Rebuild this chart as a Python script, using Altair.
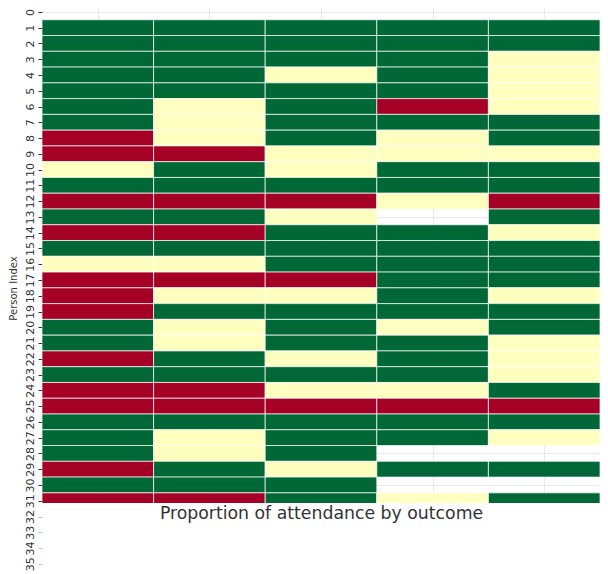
import altair as alt
import pandas as pd

# Person rows 1..31, five outcome columns (G = attended, Y = partial, R = absent, None = no data)
rows = list(range(1, 32))
col_a = ["G","G","G","G","G","G","G","R","R","Y","G","R","G","R","G","Y","R","R","R","G","G","R","G","R","R","G","G","G","R","G","R"]
col_b = ["G","G","G","G","G","Y","Y","Y","R","G","G","R","G","R","G","Y","R","Y","G","Y","Y","G","G","R","R","G","Y","Y","G","G","R"]
col_c = ["G","G","G","Y","G","G","G","G","Y","Y","G","R","Y","G","G","G","R","Y","G","G","G","Y","G","Y","R","G","G","G","Y","G","G"]
col_d = ["G","G","G","G","G","R","G","Y","Y","G","G","Y",None,"G","G","G","G","G","G","Y","G","G","G","Y","R","G","G",None,"G",None,"Y"]
col_e = ["G","G","Y","Y","Y","Y","G","G","Y","G","G","R","G","Y","G","G","G","Y","G","G","Y","Y","Y","G","R","G","Y",None,"G",None,"G"]
columns = [col_a, col_b, col_c, col_d, col_e]

outcome_domain = ["R", "Y", "G"]
outcome_colors = ["#a50026", "#ffffbf", "#006837"]
y_tick_values = list(range(36))
x_tick_values = [0, 1, 2, 3, 4]

records = []
for ci, col in enumerate(columns):
    for r, v in zip(rows, col):
        if v is None:
            continue
        records.append({"col": ci, "row": r, "x0": ci - 0.5, "x1": ci + 0.5,
                        "y0": r - 0.5, "y1": r + 0.5, "outcome": v})
df = pd.DataFrame(records)

x_scale = alt.Scale(domain=[-0.5, 4.5], nice=False, zero=False)
# index axis runs 0..35 at ~15.77 px per row; the plot area (499 px) shows rows up to ~31
y_scale = alt.Scale(domain=[-0.5, 35.5], range=[0, 567.7], nice=False, zero=False)

grid_cond = {"condition": {"test": "datum.value <= 31.2", "value": 1}, "value": 0}
tick_cond = {"condition": {"test": "datum.value <= 31.2", "value": 1}, "value": 0.3}

chart = alt.Chart(df).mark_rect(
    clip=True, stroke="white", strokeWidth=1, strokeOpacity=0.7
).encode(
    x=alt.X("x0:Q", scale=x_scale, axis=alt.Axis(
        values=x_tick_values, labels=False, ticks=False, domain=False, grid=True,
        gridColor="#e8e8ee", gridWidth=1,
        title="Proportion of attendance by outcome", titleFontSize=17.3,
        titleFont="DejaVu Sans", titleFontWeight="normal", titleColor="#333333",
        titlePadding=1)),
    x2="x1:Q",
    y=alt.Y("y0:Q", scale=y_scale, axis=alt.Axis(
        values=y_tick_values, labelAngle=-90, labelOverlap=False, labelFontSize=11,
        labelFont="DejaVu Sans", labelColor="#333333", labelPadding=3,
        ticks=True, tickSize=4, tickColor="#333333", tickOpacity=tick_cond,
        domain=False, grid=True, gridColor="#e8e8ee", gridOpacity=grid_cond,
        title="Person Index", titleFontSize=10, titleFont="DejaVu Sans",
        titleFontWeight="normal", titleColor="#333333", titlePadding=6, titleY=284)),
    y2="y1:Q",
    color=alt.Color("outcome:N", scale=alt.Scale(domain=outcome_domain, range=outcome_colors), legend=None),
).properties(
    width=592, height=499,
    autosize=alt.AutoSizeParams(type="fit-x", contains="padding"),
    padding={"top": -4, "left": 0, "right": 0, "bottom": 0},
).configure_view(stroke=None)

chart.save("out.html", embed_options={"renderer": "svg", "actions": False})
